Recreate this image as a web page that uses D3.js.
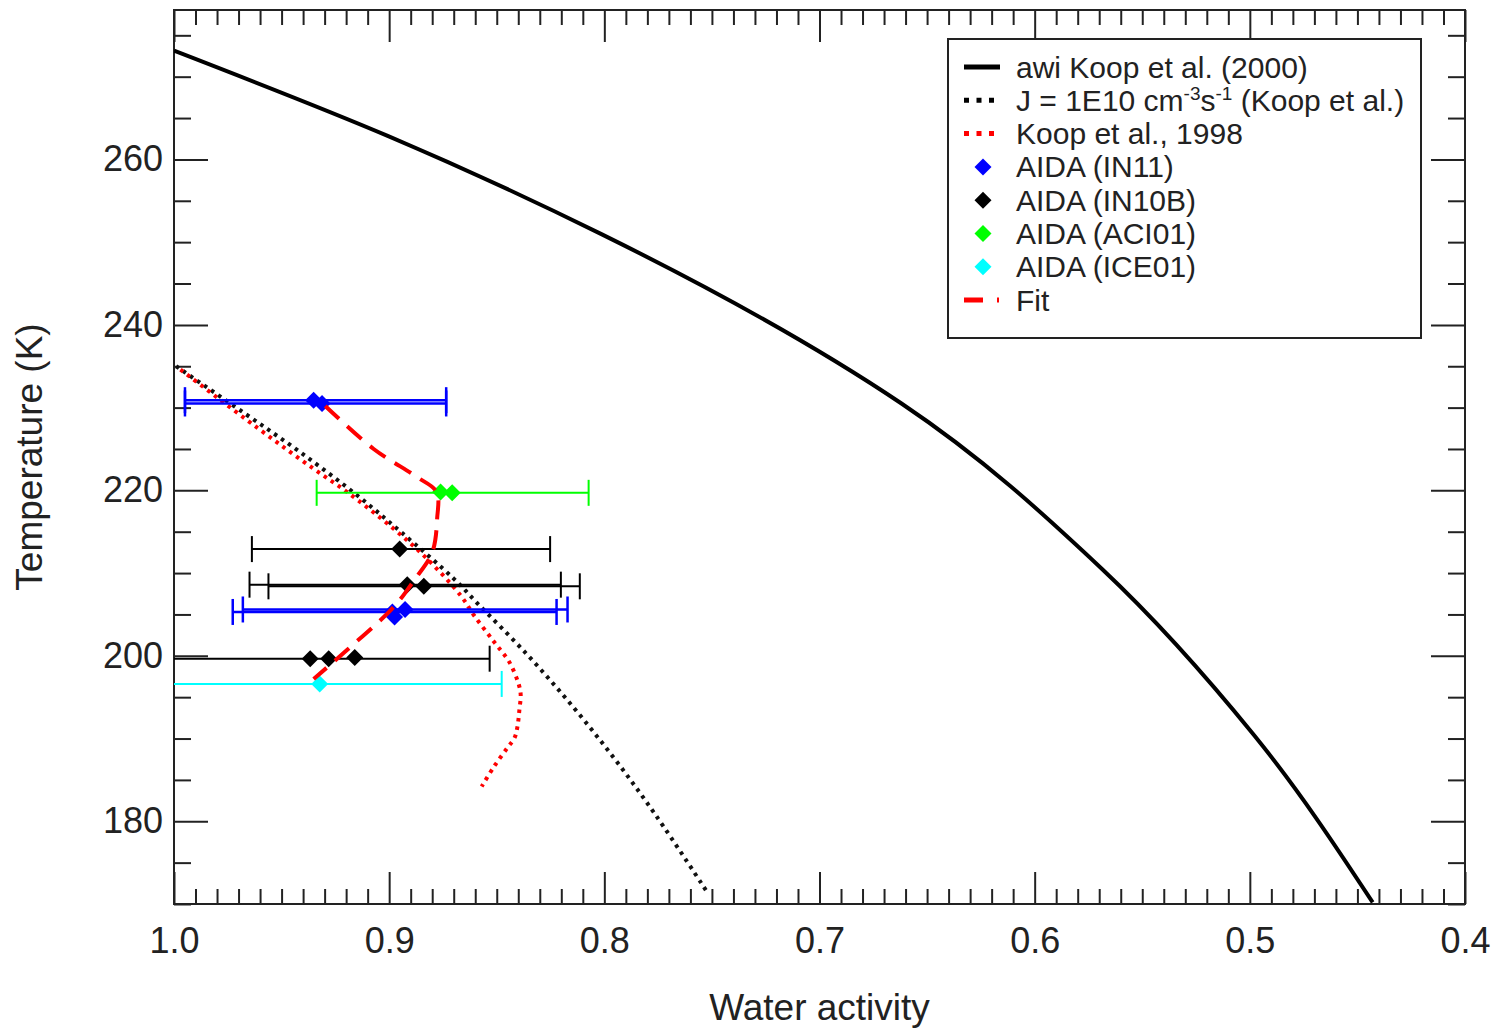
<!DOCTYPE html>
<html>
<head>
<meta charset="utf-8">
<script src="https://cdn.jsdelivr.net/npm/d3@7"></script>
<style>
  body { margin: 0; background: #fff; }
  svg text { font-family: "Liberation Sans", Arial, sans-serif; fill: #222; }
</style>
</head>
<body>
<div id="chart"></div>
<script>
// ice melting curve (awi, Koop et al. 2000)
const awiAw = [1.0, 0.9007, 0.8016, 0.6619, 0.5687, 0.498, 0.4429];
const awiT  = [273.15, 262.85, 251.0, 230.5, 210.5, 190.4, 170.2];

// J = 1E10 homogeneous nucleation line
const jAw = [0.999, 0.9677, 0.9413, 0.9149, 0.8947, 0.8699, 0.8590, 0.8364, 0.8151, 0.7951, 0.7760, 0.7521];
const jT  = [235.0, 229.4, 224.6, 219.4, 215.0, 209.3, 206.35, 200.3, 194.0, 187.5, 180.7, 171.4];

// Koop et al., 1998
const koopAw = [0.997, 0.9615, 0.9351, 0.9196, 0.8979, 0.8823, 0.8668, 0.8606, 0.8513, 0.8443, 0.8401, 0.8389, 0.8395, 0.8404, 0.8417, 0.8450, 0.8513, 0.8570];
const koopT  = [234.6, 227.6, 222.6, 219.8, 215.35, 211.7, 207.3, 204.9, 201.7, 199.3, 196.8, 195.4, 193.4, 191.4, 190.1, 188.9, 186.6, 184.2];

// Fit
const fitAw = [0.9297, 0.9072, 0.887, 0.878, 0.8777, 0.880, 0.8885, 0.8979, 0.9196, 0.9351];
const fitT  = [230.2, 225.0, 221.6, 219.8, 216.6, 212.5, 209.1, 205.9, 200.7, 197.2];

// AIDA points: [aw, T, bar from aw, bar to aw] (no bar when the ends are missing)
const in11  = [[0.9351, 230.9, 0.9949, 0.8735], [0.9312, 230.5, 0.9949, 0.8735],
               [0.8985, 205.3, 0.9727, 0.8222], [0.8975, 204.7], [0.8926, 205.6, 0.9680, 0.8171]];
const in10b = [[0.8951, 212.9, 0.9638, 0.8252], [0.8916, 208.6, 0.9649, 0.8202], [0.8839, 208.4, 0.9561, 0.8114],
               [0.9367, 199.65], [0.9281, 199.65, 1.003, 0.8533], [0.9160, 199.8]];
const aci01 = [[0.8761, 219.8], [0.8707, 219.7, 0.9337, 0.8073]];
const ice01 = [[0.9323, 196.6, 1.017, 0.8477]];

const xTicks = [1.0, 0.9, 0.8, 0.7, 0.6, 0.5, 0.4];
const yTicks = [180, 200, 220, 240, 260];

const width = 1499, height = 1031;
const pLeft = 174, pRight = 1465, pTop = 10, pBottom = 904;

const svg = d3.select("#chart").append("svg")
    .attr("width", width)
    .attr("height", height);

const x = d3.scaleLinear().domain([1.0, 0.4]).range([pLeft, pRight]);
const y = d3.scaleLinear().domain([170, 278]).range([pBottom, pTop + 0.5]);

svg.append("clipPath").attr("id", "plot")
  .append("rect").attr("x", pLeft).attr("y", pTop).attr("width", pRight - pLeft).attr("height", pBottom - pTop);

// ticks (inward, all four sides)
const xMinor = d3.range(100, 39, -1).map(v => v / 100).filter(v => Math.round(v * 100) % 10 !== 0);
const yMinor = d3.range(170, 279, 5).filter(v => v % 20 !== 0);

function tickGroup(axis, tx, ty) {
  const g = svg.append("g").attr("transform", `translate(${tx},${ty})`).call(axis);
  g.select(".domain").remove();
  g.selectAll("line").attr("stroke", "#222").attr("stroke-width", 2);
  return g;
}
tickGroup(d3.axisBottom(x).tickValues(xMinor).tickSize(-15).tickSizeOuter(0).tickFormat(""), 0, pBottom);
tickGroup(d3.axisTop(x).tickValues(xMinor).tickSize(-15).tickSizeOuter(0).tickFormat(""), 0, pTop);
tickGroup(d3.axisTop(x).tickValues(xTicks).tickSize(-32).tickSizeOuter(0).tickFormat(""), 0, pTop);
const gx = tickGroup(d3.axisBottom(x).tickValues(xTicks).tickSize(-32).tickSizeOuter(0).tickPadding(23).tickFormat(d3.format(".1f")), 0, pBottom);
gx.selectAll("text").style("font-size", "36px").attr("fill", "#222");

tickGroup(d3.axisLeft(y).tickValues(yMinor).tickSize(-17).tickSizeOuter(0).tickFormat(""), pLeft, 0);
tickGroup(d3.axisRight(y).tickValues(yMinor).tickSize(-17).tickSizeOuter(0).tickFormat(""), pRight, 0);
tickGroup(d3.axisRight(y).tickValues(yTicks).tickSize(-34).tickSizeOuter(0).tickFormat(""), pRight, 0);
const gy = tickGroup(d3.axisLeft(y).tickValues(yTicks).tickSize(-34).tickSizeOuter(0).tickPadding(11), pLeft, 0);
gy.selectAll("text").style("font-size", "36px").attr("fill", "#222");

// frame
svg.append("rect")
  .attr("x", pLeft).attr("y", pTop)
  .attr("width", pRight - pLeft).attr("height", pBottom - pTop)
  .attr("fill", "none").attr("stroke", "#222").attr("stroke-width", 2);

// axis titles
svg.append("text")
  .attr("x", (pLeft + pRight) / 2).attr("y", 1020)
  .attr("text-anchor", "middle")
  .style("font-size", "37px")
  .text("Water activity");
svg.append("text")
  .attr("transform", `translate(42,${(pTop + pBottom) / 2}) rotate(-90)`)
  .attr("text-anchor", "middle")
  .style("font-size", "37px")
  .text("Temperature (K)");

const plot = svg.append("g").attr("clip-path", "url(#plot)");

const line = d3.line().x(d => x(d[0])).y(d => y(d[1])).curve(d3.curveCatmullRom);
const smooth = d3.line().x(d => x(d[0])).y(d => y(d[1])).curve(d3.curveMonotoneY);
const zip = (a, b) => a.map((v, i) => [v, b[i]]);

plot.append("path").datum(zip(awiAw, awiT)).attr("d", smooth)
  .attr("fill", "none").attr("stroke", "#000").attr("stroke-width", 4);
plot.append("path").datum(zip(jAw, jT)).attr("d", line)
  .attr("fill", "none").attr("stroke", "#111").attr("stroke-width", 4).attr("stroke-dasharray", "3.5,5");
plot.append("path").datum(zip(koopAw, koopT)).attr("d", line)
  .attr("fill", "none").attr("stroke", "#ff0000").attr("stroke-width", 4).attr("stroke-dasharray", "3.5,5");

// error bars + diamonds
const diamond = "M0,-8.5L8.5,0L0,8.5L-8.5,0Z";
const sets = [
  { data: in11,  color: "#0000ff", w: 2.5 },
  { data: in10b, color: "#000000", w: 2 },
  { data: aci01, color: "#00ff00", w: 2 },
  { data: ice01, color: "#00ffff", w: 2 }
];
sets.forEach(s => {
  const bars = s.data.filter(d => d.length === 4);
  const g = plot.append("g").attr("stroke", s.color).attr("stroke-width", s.w);
  bars.forEach(d => {
    const x1 = x(d[2]), x2 = x(d[3]), yy = y(d[1]);
    g.append("line").attr("x1", x1).attr("x2", x2).attr("y1", yy).attr("y2", yy);
    g.append("line").attr("x1", x1).attr("x2", x1).attr("y1", yy - 13).attr("y2", yy + 13);
    g.append("line").attr("x1", x2).attr("x2", x2).attr("y1", yy - 13).attr("y2", yy + 13);
  });
});
sets.forEach(s => {
  plot.selectAll(null).data(s.data).join("path")
    .attr("d", diamond)
    .attr("transform", d => `translate(${x(d[0])},${y(d[1])})`)
    .attr("fill", s.color);
});

plot.append("path").datum(zip(fitAw, fitT)).attr("d", line)
  .attr("fill", "none").attr("stroke", "#ff0000").attr("stroke-width", 4).attr("stroke-dasharray", "19,11");

// legend
const lg = svg.append("g");
lg.append("rect").attr("x", 948).attr("y", 39).attr("width", 473).attr("height", 299)
  .attr("fill", "#fff").attr("stroke", "#222").attr("stroke-width", 2);
const rowY = i => 67 + i * 33.3;
const legendItems = [
  { type: "line", color: "#000", dash: null, label: "awi Koop et al. (2000)" },
  { type: "line", color: "#000", dash: "5,7.5", label: "J" },
  { type: "line", color: "#ff0000", dash: "5,7.5", label: "Koop et al., 1998" },
  { type: "pt", color: "#0000ff", label: "AIDA (IN11)" },
  { type: "pt", color: "#000000", label: "AIDA (IN10B)" },
  { type: "pt", color: "#00ff00", label: "AIDA (ACI01)" },
  { type: "pt", color: "#00ffff", label: "AIDA (ICE01)" },
  { type: "line", color: "#ff0000", dash: "19,14,2,20", label: "Fit" }
];
legendItems.forEach((it, i) => {
  const yy = rowY(i);
  if (it.type === "line") {
    const l = lg.append("line").attr("x1", 964).attr("x2", 1000).attr("y1", yy).attr("y2", yy)
      .attr("stroke", it.color).attr("stroke-width", 5);
    if (it.dash) l.attr("stroke-dasharray", it.dash);
  } else {
    lg.append("path").attr("d", diamond).attr("transform", `translate(983,${yy})`).attr("fill", it.color);
  }
  const t = lg.append("text").attr("x", 1016).attr("y", yy + 10.5).style("font-size", "30px");
  if (it.label === "J") {
    t.append("tspan").text("J = 1E10 cm");
    t.append("tspan").attr("dy", -11).style("font-size", "19px").text("-3");
    t.append("tspan").attr("dy", 11).text("s");
    t.append("tspan").attr("dy", -11).style("font-size", "19px").text("-1");
    t.append("tspan").attr("dy", 11).text(" (Koop et al.)");
  } else {
    t.text(it.label);
  }
});
</script>
</body>
</html>
